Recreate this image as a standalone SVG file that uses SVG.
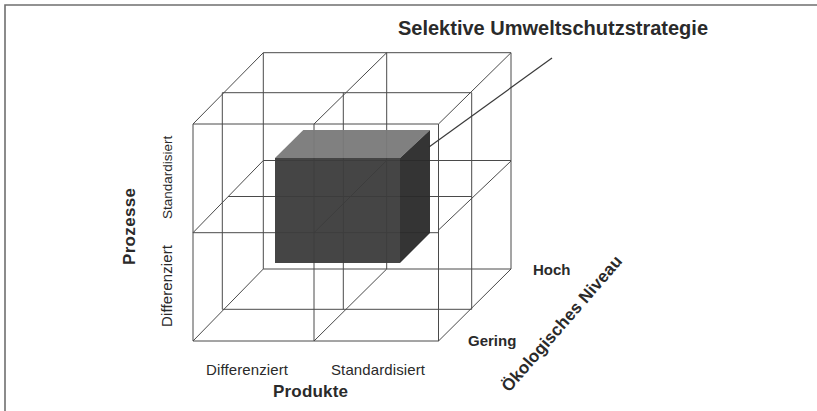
<svg xmlns="http://www.w3.org/2000/svg" width="817" height="411" viewBox="0 0 817 411">
<style>
.frame{stroke:#6f6f6f;stroke-width:1.6;fill:none}
.g{stroke:#4a4a4a;stroke-width:1;fill:none}
.lead{stroke:#3a3a3a;stroke-width:1.2;fill:none}
.t{font-family:"Liberation Sans",Arial,sans-serif;fill:#2a2a2a}
.b{font-weight:bold}
</style>
<rect width="817" height="411" fill="#ffffff"/>
<path class="frame" d="M5,411 V5 H817"/>
<g id="connectors">
<path class="g" d="M263.3,52.7 H511 V269 H263.3 Z M386.7,52.7 V269 M263.3,160.5 H511"/>
<path class="g" d="M222.3,92.7 H471.7 V309.3 H222.3 Z M343.3,92.7 V309.3 M228,196.5 H471.7"/>
<path class="g" d="M193,124 L263.3,52.7 M314,124 L386.7,52.7 M438.5,124 L511,52.7 M193,232.7 L263.3,160.5 M314,232.7 L386.7,160.5 M438.5,230 L511,161 M193,341 L263.3,269 M314,341 L386.7,269 M438.5,341 L511,269"/>
<path class="g" d="M193,124 H438.5 V341 H193 Z M314,124 V341 M193,232.7 H438.5"/>
<line class="lead" x1="429" y1="147" x2="552" y2="58"/>
</g>
<g id="box" opacity="0.95">
<polygon points="275,158 303.3,130 430,130 400,158" fill="#7a7a7a"/>
<polygon points="275,158 400,158 400,263 275,263" fill="#3c3c3c"/>
<polygon points="400,158 430,130 430,233 400,263" fill="#2a2a2a"/>
</g>
<g id="title"><text class="t b" x="398" y="35" font-size="20" textLength="310">Selektive Umweltschutzstrategie</text></g>
<g id="prozesse"><text class="t b" font-size="17" transform="translate(135,265) rotate(-90)" textLength="77">Prozesse</text></g>
<g id="p-std"><text class="t" font-size="13.5" transform="translate(171.5,219) rotate(-90)">Standardisiert</text></g>
<g id="p-diff"><text class="t" font-size="15" transform="translate(171.5,327) rotate(-90)" textLength="82">Differenziert</text></g>
<g id="x-diff"><text class="t" x="206" y="375" font-size="15" textLength="82">Differenziert</text></g>
<g id="x-std"><text class="t" x="331" y="375" font-size="15" textLength="94">Standardisiert</text></g>
<g id="produkte"><text class="t b" x="273" y="397" font-size="17" textLength="75">Produkte</text></g>
<g id="gering"><text class="t b" x="468" y="346" font-size="15">Gering</text></g>
<g id="hoch"><text class="t b" x="533" y="275" font-size="15">Hoch</text></g>
<g id="oeko"><text class="t b" font-size="17" transform="translate(509,393) rotate(-49)" textLength="174">Ökologisches Niveau</text></g>
</svg>
